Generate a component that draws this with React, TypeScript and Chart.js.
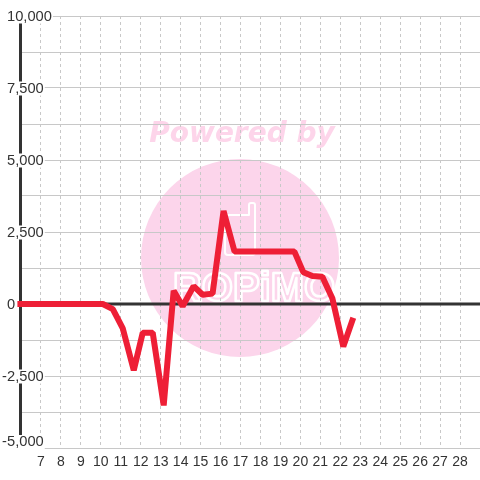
import React, { useEffect, useRef } from 'react';
import { Chart, registerables } from 'chart.js';

Chart.register(...registerables);

// Data (x = hour of day, y = value)
const xValues = [5.82, 10.1, 10.6, 11.1, 11.65, 12.1, 12.6, 13.15, 13.65, 14.1, 14.65, 15.1, 15.6, 16.15, 16.7, 19.7, 20.15, 20.6, 21.1, 21.6, 22.15, 22.65];
const yValues = [0, 0, -180, -850, -2300, -1000, -1000, -3520, 460, -80, 620, 320, 360, 3230, 1820, 1820, 1100, 970, 950, 200, -1480, -480];
const xTickValues = [7, 8, 9, 10, 11, 12, 13, 14, 15, 16, 17, 18, 19, 20, 21, 22, 23, 24, 25, 26, 27, 28];
const yTickValues = [10000, 7500, 5000, 2500, 0, -2500, -5000];
const watermarkTitle = 'Powered by';
const watermarkLogo = 'ROPiMO';

const FONT = '"Liberation Sans", Arial, sans-serif';
const TEXT = '#333333';
const GRID = '#c8c8c8';
const RED = '#ee1f36';
const PINK = '#fcd5eb';

const decorPlugin = {
  id: 'decor',
  beforeDraw(chart: any) {
    const ctx = chart.ctx;
    ctx.save();
    ctx.fillStyle = '#ffffff';
    ctx.fillRect(0, 0, chart.width, chart.height);
    // watermark circle
    ctx.fillStyle = PINK;
    ctx.beginPath();
    ctx.arc(240, 258, 99, 0, Math.PI * 2);
    ctx.fill();
    // Powered by
    ctx.font = 'italic bold 28px "DejaVu Sans", sans-serif';
    ctx.textAlign = 'center';
    ctx.textBaseline = 'alphabetic';
    ctx.fillStyle = '#fdd5ea';
    ctx.fillText(watermarkTitle, 242, 142);
    // phone outline
    ctx.strokeStyle = '#ffffff';
    ctx.lineWidth = 2;
    ctx.lineJoin = 'round';
    ctx.beginPath();
    ctx.moveTo(228, 215);
    ctx.lineTo(249, 215);
    ctx.lineTo(249, 205);
    ctx.quadraticCurveTo(249, 203, 251, 203);
    ctx.lineTo(253, 203);
    ctx.quadraticCurveTo(255, 203, 255, 205);
    ctx.lineTo(255, 252);
    ctx.quadraticCurveTo(255, 255, 252, 255);
    ctx.lineTo(228, 255);
    ctx.quadraticCurveTo(225, 255, 225, 252);
    ctx.lineTo(225, 218);
    ctx.quadraticCurveTo(225, 215, 228, 215);
    ctx.stroke();
    // logo letters
    ctx.font = 'bold 40px "Liberation Sans", Arial, sans-serif';
    ctx.lineWidth = 2.5;
    ctx.strokeText(watermarkLogo, 254, 301);
    ctx.restore();
  },
  beforeDatasetsDraw(chart: any) {
    const ctx = chart.ctx;
    const area = chart.chartArea;
    const y = chart.scales.y;
    ctx.save();
    ctx.fillStyle = TEXT;
    // zero line
    const y0 = y.getPixelForValue(0);
    ctx.fillRect(area.left - 2, Math.round(y0) - 1.5, area.right - area.left + 2, 3);
    // y axis line
    ctx.fillRect(area.left - 2, area.top, 3, area.bottom - area.top);
    // y labels with white backdrop
    ctx.font = '14.7px ' + FONT;
    ctx.textBaseline = 'middle';
    const x0 = 7;
    yTickValues.forEach((v) => {
      let py = y.getPixelForValue(v) + 0.5;
      py = Math.min(py, area.bottom - 6);
      const txt = Math.abs(v).toLocaleString('en-US');
      const w = ctx.measureText(txt).width;
      const mw = v < 0 ? ctx.measureText('-').width : 0;
      ctx.fillStyle = '#ffffff';
      ctx.fillRect(x0 - mw - 1, py - 7, w + mw + 2, 14);
      ctx.fillStyle = TEXT;
      ctx.textAlign = 'left';
      ctx.fillText(txt, x0, py);
      if (v < 0) {
        ctx.textAlign = 'right';
        ctx.fillText('-', x0, py);
      }
    });
    ctx.restore();
  },
};

export default function App() {
  const ref = useRef<HTMLCanvasElement | null>(null);
  useEffect(() => {
    if (!ref.current) return;
    const chart = new Chart(ref.current, {
      type: 'line',
      data: {
        datasets: [
          {
            data: xValues.map((x, i) => ({ x, y: yValues[i] })),
            borderColor: RED,
            borderWidth: 6,
            pointRadius: 0,
            tension: 0,
            borderJoinStyle: 'bevel',
            fill: false,
            clip: false as any,
          },
        ],
      },
      options: {
        animation: false,
        responsive: false,
        devicePixelRatio: 1,
        layout: { padding: { top: 16, right: 0, left: 0, bottom: 0 } },
        plugins: { legend: { display: false }, tooltip: { enabled: false } },
        scales: {
          x: {
            type: 'linear',
            min: 6,
            max: 29,
            afterBuildTicks: (s: any) => {
              s.ticks = xTickValues.map((v) => ({ value: v }));
            },
            afterFit: (s: any) => {
              s.height = 32;
            },
            ticks: {
              autoSkip: false,
              maxRotation: 0,
              padding: 6,
              color: TEXT,
              font: { family: FONT, size: 14 },
              callback: (v: any) => String(v),
            },
            grid: { color: GRID, lineWidth: 1, drawTicks: false },
            border: { display: false, dash: [3, 3] },
          },
          y: {
            type: 'linear',
            min: -5000,
            max: 10000,
            afterFit: (s: any) => {
              s.width = 21;
            },
            ticks: { stepSize: 1250, display: false },
            grid: { color: GRID, lineWidth: 1, drawTicks: false },
            border: { display: false },
          },
        },
      },
      plugins: [decorPlugin],
    });
    return () => chart.destroy();
  }, []);
  return (
    <div style={{ position: 'fixed', left: 0, top: 0, width: 480, height: 480 }}>
      <canvas ref={ref} width={480} height={480} />
    </div>
  );
}
